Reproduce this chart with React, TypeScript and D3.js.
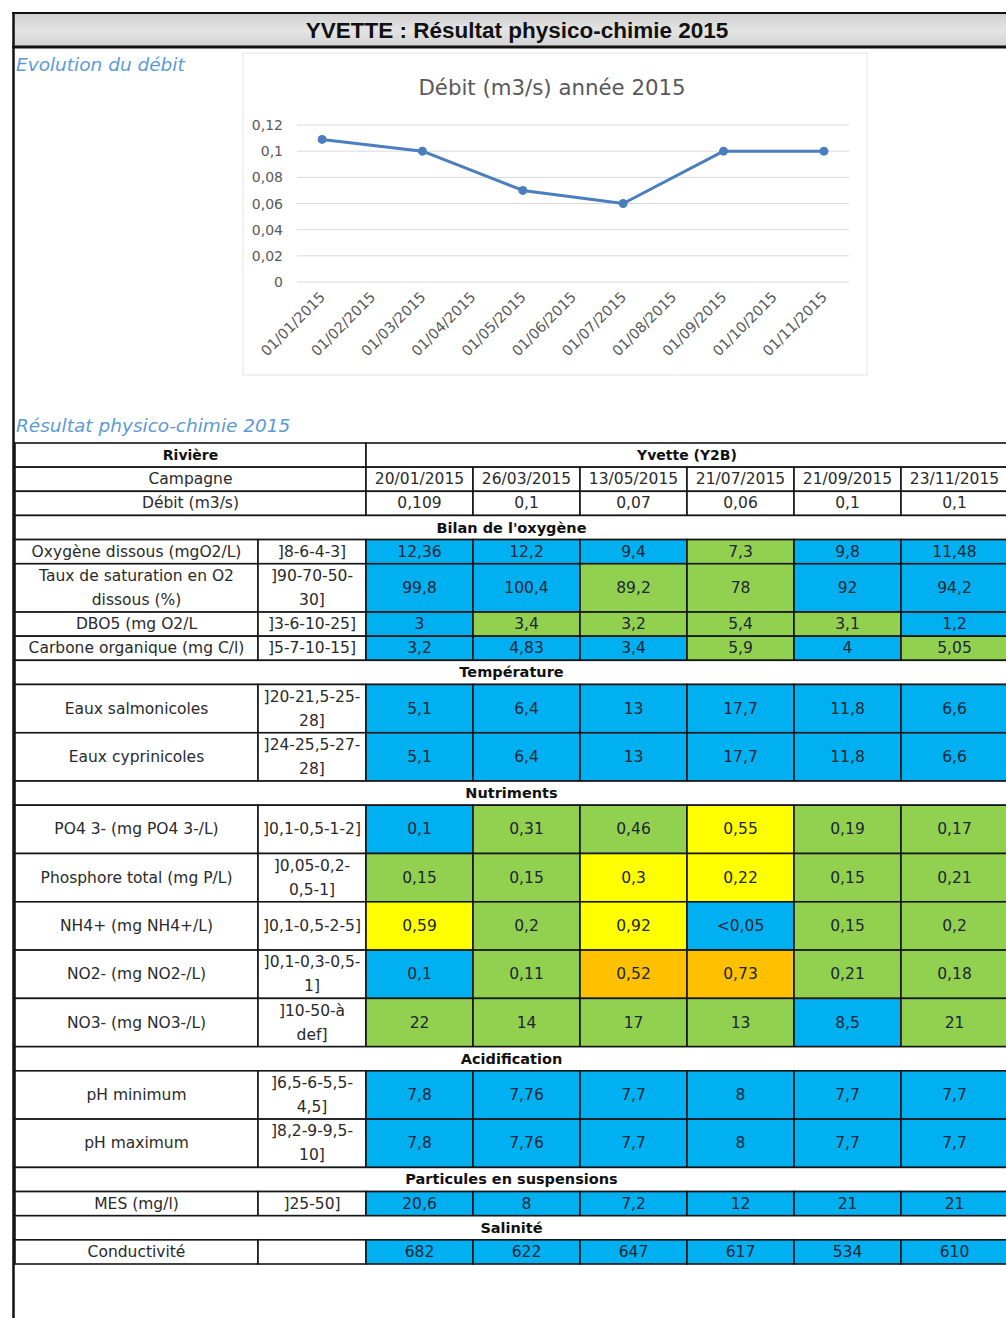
import React from "react";
import * as d3 from "d3";

// ---------- Chart data ----------
const pageTitle = "YVETTE : Résultat physico-chimie 2015";
const chartSectionTitle = "Evolution du débit";
const tableSectionTitle = "Résultat physico-chimie 2015";
const chartTitle = "Débit (m3/s) année 2015";
const axisMonths = [
  "01/01/2015", "01/02/2015", "01/03/2015", "01/04/2015", "01/05/2015", "01/06/2015",
  "01/07/2015", "01/08/2015", "01/09/2015", "01/10/2015", "01/11/2015",
];
const campaigns = ["20/01/2015", "26/03/2015", "13/05/2015", "21/07/2015", "21/09/2015", "23/11/2015"];
const flowValues = [0.109, 0.1, 0.07, 0.06, 0.1, 0.1];
const yTicks = [0, 0.02, 0.04, 0.06, 0.08, 0.1, 0.12];

// ---------- Table data ----------
const riverName = "Yvette (Y2B)";
const sectionTitles = [
  "Bilan de l'oxygène", "Température", "Nutriments", "Acidification",
  "Particules en suspensions", "Salinité",
];
const paramSection = [0, 0, 0, 0, 1, 1, 2, 2, 2, 2, 2, 3, 3, 4, 5];
const paramSpan = [1, 2, 1, 1, 2, 2, 2, 2, 2, 2, 2, 2, 2, 1, 1];
const paramLabels = [
  ["Oxygène dissous (mgO2/L)"],
  ["Taux de saturation en O2", "dissous (%)"],
  ["DBO5 (mg O2/L"],
  ["Carbone organique (mg C/l)"],
  ["Eaux salmonicoles"],
  ["Eaux cyprinicoles"],
  ["PO4 3- (mg PO4 3-/L)"],
  ["Phosphore total (mg P/L)"],
  ["NH4+ (mg NH4+/L)"],
  ["NO2- (mg NO2-/L)"],
  ["NO3- (mg NO3-/L)"],
  ["pH minimum"],
  ["pH maximum"],
  ["MES (mg/l)"],
  ["Conductivité"],
];
const paramThresholds = [
  ["]8-6-4-3]"],
  ["]90-70-50-", "30]"],
  ["]3-6-10-25]"],
  ["]5-7-10-15]"],
  ["]20-21,5-25-", "28]"],
  ["]24-25,5-27-", "28]"],
  ["]0,1-0,5-1-2]"],
  ["]0,05-0,2-", "0,5-1]"],
  ["]0,1-0,5-2-5]"],
  ["]0,1-0,3-0,5-", "1]"],
  ["]10-50-à", "def]"],
  ["]6,5-6-5,5-", "4,5]"],
  ["]8,2-9-9,5-", "10]"],
  ["]25-50]"],
  [""],
];
const paramValues = [
  ["12,36", "12,2", "9,4", "7,3", "9,8", "11,48"],
  ["99,8", "100,4", "89,2", "78", "92", "94,2"],
  ["3", "3,4", "3,2", "5,4", "3,1", "1,2"],
  ["3,2", "4,83", "3,4", "5,9", "4", "5,05"],
  ["5,1", "6,4", "13", "17,7", "11,8", "6,6"],
  ["5,1", "6,4", "13", "17,7", "11,8", "6,6"],
  ["0,1", "0,31", "0,46", "0,55", "0,19", "0,17"],
  ["0,15", "0,15", "0,3", "0,22", "0,15", "0,21"],
  ["0,59", "0,2", "0,92", "<0,05", "0,15", "0,2"],
  ["0,1", "0,11", "0,52", "0,73", "0,21", "0,18"],
  ["22", "14", "17", "13", "8,5", "21"],
  ["7,8", "7,76", "7,7", "8", "7,7", "7,7"],
  ["7,8", "7,76", "7,7", "8", "7,7", "7,7"],
  ["20,6", "8", "7,2", "12", "21", "21"],
  ["682", "622", "647", "617", "534", "610"],
];
const paramClasses = [
  "BBBGBB", "BBGGBB", "BGGGGB", "BBBGBG", "BBBBBB", "BBBBBB",
  "BGGYGG", "GGYYGG", "YGYBGG", "BGOOGG", "GGGGBG",
  "BBBBBB", "BBBBBB", "BBBBBB", "BBBBBB",
];
const classColors: Record<string, string> = {
  B: "#00B0F0", G: "#92D050", Y: "#FFFF00", O: "#FFC000",
};

const FONT = "DejaVu Sans, Liberation Sans, sans-serif";
const frLocale = d3.formatLocale({ decimal: ",", thousands: " ", grouping: [3], currency: ["", " €"] });
const fmt = frLocale.format("~g");
const parseDate = d3.timeParse("%d/%m/%Y");
const monthKey = d3.timeFormat("01/%m/%Y");

function Chart() {
  const x = d3.scaleBand().domain(axisMonths).range([297, 849]);
  const y = d3.scaleLinear().domain([0, 0.12]).range([282, 125]);
  const pts = campaigns.map((c, i) => {
    const d = parseDate(c) as Date;
    const key = monthKey(d3.timeMonth.floor(d));
    return [(x(key) as number) + x.bandwidth() / 2, y(flowValues[i])] as [number, number];
  });
  const line = d3.line();
  return (
    <g>
      <rect x={243} y={53} width={624} height={322} fill="#fff" stroke="#e4e4e4" />
      <text x={552} y={87} textAnchor="middle" dominantBaseline="central" fontFamily={FONT} fontSize={21.3} fill="#595959">
        {chartTitle}
      </text>
      {yTicks.map((t) => (
        <g key={t}>
          <line x1={297} x2={849} y1={y(t)} y2={y(t)} stroke="#d9d9d9" strokeWidth={1} />
          <text x={283} y={y(t)} textAnchor="end" dominantBaseline="central" fontFamily={FONT} fontSize={14} fill="#595959">
            {fmt(t)}
          </text>
        </g>
      ))}
      {axisMonths.map((m) => {
        const cx = (x(m) as number) + x.bandwidth() / 2;
        return (
          <text key={m} transform={`translate(${cx + 4},${298}) rotate(-45)`} textAnchor="end" fontFamily={FONT} fontSize={14.5} fill="#595959">
            {m}
          </text>
        );
      })}
      <path d={line(pts) || ""} fill="none" stroke="#4a7ebf" strokeWidth={3} strokeLinejoin="round" />
      {pts.map((p, i) => (
        <circle key={i} cx={p[0]} cy={p[1]} r={4.5} fill="#4a7ebf" />
      ))}
    </g>
  );
}

function CellText({ cx, cy, lines, bold, size, color }: any) {
  const lh = 24;
  return (
    <>
      {lines.map((l: string, i: number) => (
        <text
          key={i}
          x={cx}
          y={cy + (i - (lines.length - 1) / 2) * lh}
          textAnchor="middle"
          dominantBaseline="central"
          fontFamily={FONT}
          fontSize={size || 15.5}
          fontWeight={bold ? "bold" : "normal"}
          fill={color || "#2a2a2a"}
        >
          {l}
        </text>
      ))}
    </>
  );
}

function Table() {
  type Row = { kind: string; span: number; idx: number };
  const rows: Row[] = [
    { kind: "riviere", span: 1, idx: -1 },
    { kind: "campagne", span: 1, idx: -1 },
    { kind: "debit", span: 1, idx: -1 },
  ];
  sectionTitles.forEach((_, s) => {
    rows.push({ kind: "section", span: 1, idx: s });
    paramSection.forEach((ps, p) => {
      if (ps === s) rows.push({ kind: "param", span: paramSpan[p], idx: p });
    });
  });
  const totalUnits = d3.sum(rows, (r) => r.span);
  const yU = d3.scaleLinear().domain([0, totalUnits]).range([443, 1264]);
  const xL0 = 15, xL1 = 258, xT1 = 366, xR = 1008;
  const xd = d3.scaleBand().domain(campaigns).range([xT1, xR]);
  const stroke = "#151515";
  const sw = 1.6;
  let u = 0;
  const out: any[] = [];
  rows.forEach((r, ri) => {
    const y0 = yU(u), y1 = yU(u + r.span);
    const cy = (y0 + y1) / 2;
    u += r.span;
    const cell = (x0: number, x1: number, fill: string, k: string) => (
      <rect key={k} x={x0} y={y0} width={x1 - x0} height={y1 - y0} fill={fill} stroke={stroke} strokeWidth={sw} />
    );
    if (r.kind === "riviere") {
      out.push(cell(xL0, xT1, "#fff", `r${ri}a`));
      out.push(cell(xT1, xR, "#fff", `r${ri}b`));
      out.push(<CellText key={`r${ri}t1`} cx={(xL0 + xT1) / 2} cy={cy} lines={["Rivière"]} bold size={14} color="#111" />);
      out.push(<CellText key={`r${ri}t2`} cx={(xT1 + xR) / 2} cy={cy} lines={[riverName]} bold size={14} color="#111" />);
    } else if (r.kind === "campagne" || r.kind === "debit") {
      out.push(cell(xL0, xT1, "#fff", `r${ri}a`));
      out.push(
        <CellText key={`r${ri}t`} cx={(xL0 + xT1) / 2} cy={cy} lines={[r.kind === "campagne" ? "Campagne" : "Débit (m3/s)"]} />
      );
      campaigns.forEach((c, ci) => {
        const x0 = xd(c) as number;
        out.push(cell(x0, x0 + xd.bandwidth(), "#fff", `r${ri}c${ci}`));
        out.push(
          <CellText key={`r${ri}v${ci}`} cx={x0 + xd.bandwidth() / 2} cy={cy} lines={[r.kind === "campagne" ? c : fmt(flowValues[ci])]} />
        );
      });
    } else if (r.kind === "section") {
      out.push(cell(xL0, xR, "#fff", `r${ri}s`));
      out.push(<CellText key={`r${ri}st`} cx={(xL0 + xR) / 2} cy={cy} lines={[sectionTitles[r.idx]]} bold size={14.5} color="#111" />);
    } else {
      const p = r.idx;
      out.push(cell(xL0, xL1, "#fff", `r${ri}a`));
      out.push(cell(xL1, xT1, "#fff", `r${ri}b`));
      out.push(<CellText key={`r${ri}l`} cx={(xL0 + xL1) / 2} cy={cy} lines={paramLabels[p]} />);
      out.push(<CellText key={`r${ri}th`} cx={(xL1 + xT1) / 2} cy={cy} lines={paramThresholds[p]} />);
      campaigns.forEach((c, ci) => {
        const x0 = xd(c) as number;
        out.push(cell(x0, x0 + xd.bandwidth(), classColors[paramClasses[p][ci]], `r${ri}c${ci}`));
        out.push(
          <CellText key={`r${ri}v${ci}`} cx={x0 + xd.bandwidth() / 2} cy={cy} lines={[paramValues[p][ci]]} color="#1c2636" />
        );
      });
    }
  });
  return <g>{out}</g>;
}

export default function App() {
  return (
    <svg width={1006} height={1318} style={{ position: "absolute", left: 0, top: 0, background: "#fff" }}>
      <defs>
        <linearGradient id="titleGrad" x1="0" y1="0" x2="0" y2="1">
          <stop offset="0" stopColor="#cfcfcf" />
          <stop offset="0.5" stopColor="#e4e4e4" />
          <stop offset="1" stopColor="#d2d2d2" />
        </linearGradient>
      </defs>
      <rect x={0} y={0} width={1006} height={1318} fill="#fff" />
      <rect x={13} y={13} width={1000} height={34} fill="url(#titleGrad)" />
      <line x1={12} x2={1006} y1={13} y2={13} stroke="#111" strokeWidth={2} />
      <line x1={12} x2={1006} y1={47} y2={47} stroke="#111" strokeWidth={3} />
      <text x={517} y={30} textAnchor="middle" dominantBaseline="central" fontFamily="Liberation Sans, Arial, sans-serif" fontWeight="bold" fontSize={22.5} fill="#111">
        {pageTitle}
      </text>
      <text x={16} y={64} dominantBaseline="central" fontFamily={FONT} fontStyle="italic" fontSize={18.5} fill="#5b9bd5">
        {chartSectionTitle}
      </text>
      <Chart />
      <text x={16} y={425} dominantBaseline="central" fontFamily={FONT} fontStyle="italic" fontSize={18.5} fill="#5b9bd5">
        {tableSectionTitle}
      </text>
      <Table />
      <line x1={13.5} x2={13.5} y1={12} y2={1318} stroke="#111" strokeWidth={2.5} />
    </svg>
  );
}
